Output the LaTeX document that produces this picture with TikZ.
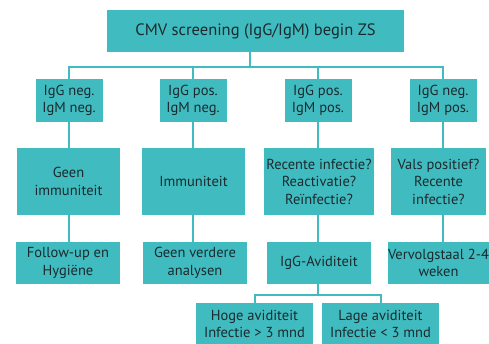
\documentclass[tikz,border=0pt]{standalone}
\usepackage{fontspec}
\setmainfont{PT Sans}
\definecolor{cmvteal}{HTML}{40BCC0}
\definecolor{cmvtext}{HTML}{1B2A2E}
\begin{document}
\begin{tikzpicture}[x=1pt,y=-1pt,
    box/.style={rectangle, fill=cmvteal, text=cmvtext, align=center, inner sep=0pt,
                font=\fontsize{14.5}{17.5}\selectfont},
    link/.style={draw=cmvteal, line width=2pt}]
    \clip (0,0) rectangle (489,343);

    \node [box, minimum width=297pt, minimum height=42pt, font=\fontsize{16.5}{20}\selectfont] (top) at (255.5,31) {CMV screening (IgG/IgM) begin ZS};

    \node [box, minimum width=67pt, minimum height=43pt] (ra) at (69,100.5) {IgG neg.\\IgM neg.};
    \node [box, minimum width=67pt, minimum height=43pt] (rb) at (193,100.5) {IgG pos.\\IgM neg.};
    \node [box, minimum width=67pt, minimum height=43pt] (rc) at (318,100.5) {IgG pos.\\IgM pos.};
    \node [box, minimum width=67pt, minimum height=43pt] (rd) at (443,100.5) {IgG neg.\\IgM pos.};

    \node [box, minimum width=103pt, minimum height=67pt] (sa) at (68.5,181.5) {Geen\\immuniteit};
    \node [box, minimum width=103pt, minimum height=67pt] (sb) at (193.5,181.5) {Immuniteit};
    \node [box, minimum width=110pt, minimum height=67pt] (sc) at (319,181.5) {Recente infectie?\\Reactivatie?\\Reïnfectie?};
    \node [box, minimum width=95pt, minimum height=67pt] (sd) at (438.5,181.5) {Vals positief?\\Recente\\infectie?};

    \node [box, minimum width=104pt, minimum height=42pt] (ta) at (68,263) {Follow-up en\\Hygiëne};
    \node [box, minimum width=104pt, minimum height=42pt] (tb) at (195,263) {Geen verdere\\analysen};
    \node [box, minimum width=104pt, minimum height=42pt] (tc) at (319,263) {IgG-Aviditeit};
    \node [box, minimum width=95pt, minimum height=42pt] (td) at (438.5,263) {Vervolgstaal 2-4\\weken};

    \node [box, minimum width=117pt, minimum height=42pt] (ua) at (254.5,324) {Hoge aviditeit\\Infectie > 3 mnd};
    \node [box, minimum width=117pt, minimum height=42pt] (ub) at (380.5,324) {Lage aviditeit\\Infectie < 3 mnd};

    % verbindingen
    \coordinate (bus) at (250,67);
    \coordinate (subbus) at (318,295);
    \draw [link] (top.south -| bus) -- (bus);
    \draw [link] (ra.north) |- (bus) -| (rd.north);
    \draw [link] (rb.north) -- (rb.north |- bus);
    \draw [link] (rc.north) -- (rc.north |- bus);

    \draw [link] (ra.south) -- (ra.south |- sa.north);
    \draw [link] (rb.south) -- (rb.south |- sb.north);
    \draw [link] (rc.south) -- (rc.south |- sc.north);
    \draw [link] (rd.south) -- (rd.south |- sd.north);

    \draw [link] (ra.south |- sa.south) -- (ra.south |- ta.north);
    \draw [link] (rb.south |- sb.south) -- (rb.south |- tb.north);
    \draw [link] (rc.south |- sc.south) -- (rc.south |- tc.north);
    \draw [link] (rd.south |- sd.south) -- (rd.south |- td.north);

    \draw [link] (tc.south -| subbus) -- (subbus);
    \draw [link] (ua.north) |- (subbus) -| (ub.north);
\end{tikzpicture}
\end{document}
